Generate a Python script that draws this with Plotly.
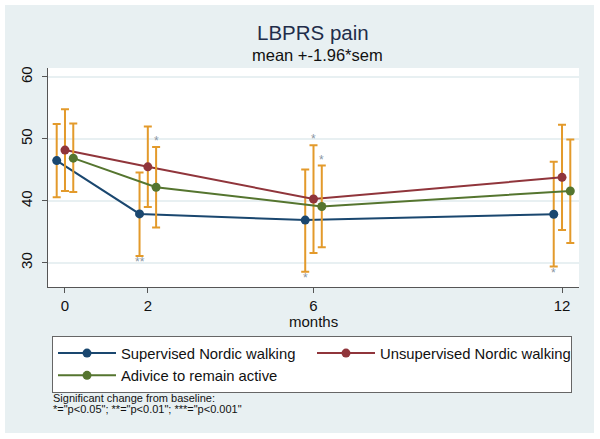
import plotly.graph_objects as go

months = [0, 2, 6, 12]
offsets = [-0.2, 0.0, 0.2]
groups = ["Supervised Nordic walking", "Unsupervised Nordic walking", "Adivice to remain active"]
colors = ["#1a476f", "#90353b", "#55752f"]

supervised_mean = [46.5, 37.9, 36.9, 37.85]
supervised_hi = [52.4, 44.6, 45.05, 46.3]
supervised_lo = [40.6, 31.1, 28.55, 29.4]

unsupervised_mean = [48.2, 45.5, 40.3, 43.8]
unsupervised_hi = [54.8, 52.0, 49.0, 52.3]
unsupervised_lo = [41.6, 39.0, 31.6, 35.3]

advice_mean = [46.9, 42.2, 39.1, 41.6]
advice_hi = [52.5, 48.7, 45.7, 49.9]
advice_lo = [41.45, 35.7, 32.5, 33.2]

# significance markers: group index, month, label, y position
sig_group = [2, 0, 1, 2, 0, 0]
sig_month = [2, 2, 6, 6, 6, 12]
sig_label = ["*", "**", "*", "*", "*", "*"]
sig_y = [50.2, 30.6, 50.4, 47.1, 28.1, 28.9]

footnote_lines = ["Significant change from baseline:",
                  "*=\"p<0.05\"; **=\"p<0.01\"; ***=\"p<0.001\""]

means = [supervised_mean, unsupervised_mean, advice_mean]
his = [supervised_hi, unsupervised_hi, advice_hi]
los = [supervised_lo, unsupervised_lo, advice_lo]

FONT = "Liberation Sans, Arial, sans-serif"
ORANGE = "#E39A2B"
BG = "#E8F0F2"

L, R, T, B = 48, 21, 68, 152
W, H = 600, 439
pw, ph = W - L - R, H - T - B
def px_x(px):
    return (px - L) / pw
def px_y(py):
    return (H - B - py) / ph

fig = go.Figure()
for g in range(3):
    xs = [m + offsets[g] for m in months]
    fig.add_trace(go.Scatter(
        x=xs, y=means[g], mode="lines+markers", name=groups[g],
        line=dict(color=colors[g], width=2),
        marker=dict(color=colors[g], size=9),
        error_y=dict(type="data", symmetric=False,
                     array=[h - m for h, m in zip(his[g], means[g])],
                     arrayminus=[m - l for m, l in zip(means[g], los[g])],
                     color=ORANGE, thickness=2, width=4),
    ))

annotations = []
for g, m, lab, yv in zip(sig_group, sig_month, sig_label, sig_y):
    annotations.append(dict(x=m + offsets[g], y=yv, xref="x", yref="y", text=lab,
                            showarrow=False, yshift=-3,
                            font=dict(family=FONT, size=12, color="#8a96a3")))

annotations.append(dict(
    x=px_x(312.5), y=px_y(33), xref="paper", yref="paper", xanchor="center", yanchor="middle",
    showarrow=False, text="LBPRS pain", font=dict(family=FONT, size=20.5, color="#1f2d4a")))
annotations.append(dict(
    x=px_x(317), y=px_y(55), xref="paper", yref="paper", xanchor="center", yanchor="middle",
    showarrow=False, text="mean +-1.96*sem", font=dict(family=FONT, size=16.5, color="#111111")))
for i, line in enumerate(footnote_lines):
    annotations.append(dict(
        x=px_x(51), y=px_y(398 + 10.5 * i), xref="paper", yref="paper", xanchor="left",
        yanchor="middle", align="left", showarrow=False, text=line,
        font=dict(family=FONT, size=11, color="#111111")))
annotations.append(dict(
    x=px_x(313.5), y=px_y(321), xref="paper", yref="paper", xanchor="center", yanchor="middle",
    showarrow=False, text="months", font=dict(family=FONT, size=15, color="#111111")))

# thin white frame around the light background
shapes = [
    dict(type="rect", xref="paper", yref="paper", layer="above",
         x0=px_x(0), x1=px_x(600), y0=px_y(5), y1=px_y(0), fillcolor="white", line=dict(width=0)),
    dict(type="rect", xref="paper", yref="paper", layer="above",
         x0=px_x(0), x1=px_x(600), y0=px_y(439), y1=px_y(433), fillcolor="white", line=dict(width=0)),
    dict(type="rect", xref="paper", yref="paper", layer="above",
         x0=px_x(0), x1=px_x(5), y0=px_y(439), y1=px_y(0), fillcolor="white", line=dict(width=0)),
    dict(type="rect", xref="paper", yref="paper", layer="above",
         x0=px_x(594), x1=px_x(600), y0=px_y(439), y1=px_y(0), fillcolor="white", line=dict(width=0)),
]

fig.update_layout(
    width=W, height=H,
    margin=dict(l=L, r=R, t=T, b=B, autoexpand=False),
    paper_bgcolor=BG, plot_bgcolor="white",
    font=dict(family=FONT, size=15, color="#111111"),
    xaxis=dict(range=[-0.41, 12.41], tickvals=months, ticktext=[str(m) for m in months],
               showgrid=False, zeroline=False, showline=True, linecolor="#555555", linewidth=1,
               ticks="outside", ticklen=5, tickcolor="#555555",
               tickfont=dict(family=FONT, size=15, color="#111111")),
    yaxis=dict(range=[26.1, 61.45], tickvals=[30, 40, 50, 60], tickangle=-90,
               showgrid=True, gridcolor=BG, gridwidth=1.5, zeroline=False,
               showline=True, linecolor="#555555", linewidth=1,
               ticks="outside", ticklen=5, tickcolor="#555555", ticklabelstandoff=4,
               tickfont=dict(family=FONT, size=15, color="#111111")),
    legend=dict(orientation="h", x=px_x(52), y=px_y(336), xanchor="left", yanchor="top",
                xref="paper", yref="paper",
                bgcolor="white", bordercolor="#666666", borderwidth=1,
                entrywidth=186, entrywidthmode="pixels", itemwidth=58,
                font=dict(family=FONT, size=14.8, color="#111111"),
                tracegroupgap=0),
    annotations=annotations,
    shapes=shapes,
    showlegend=True,
)

fig.write_html("out.html", config={"displayModeBar": False},
               post_script="document.body.style.margin='0';document.body.style.padding='0';")
